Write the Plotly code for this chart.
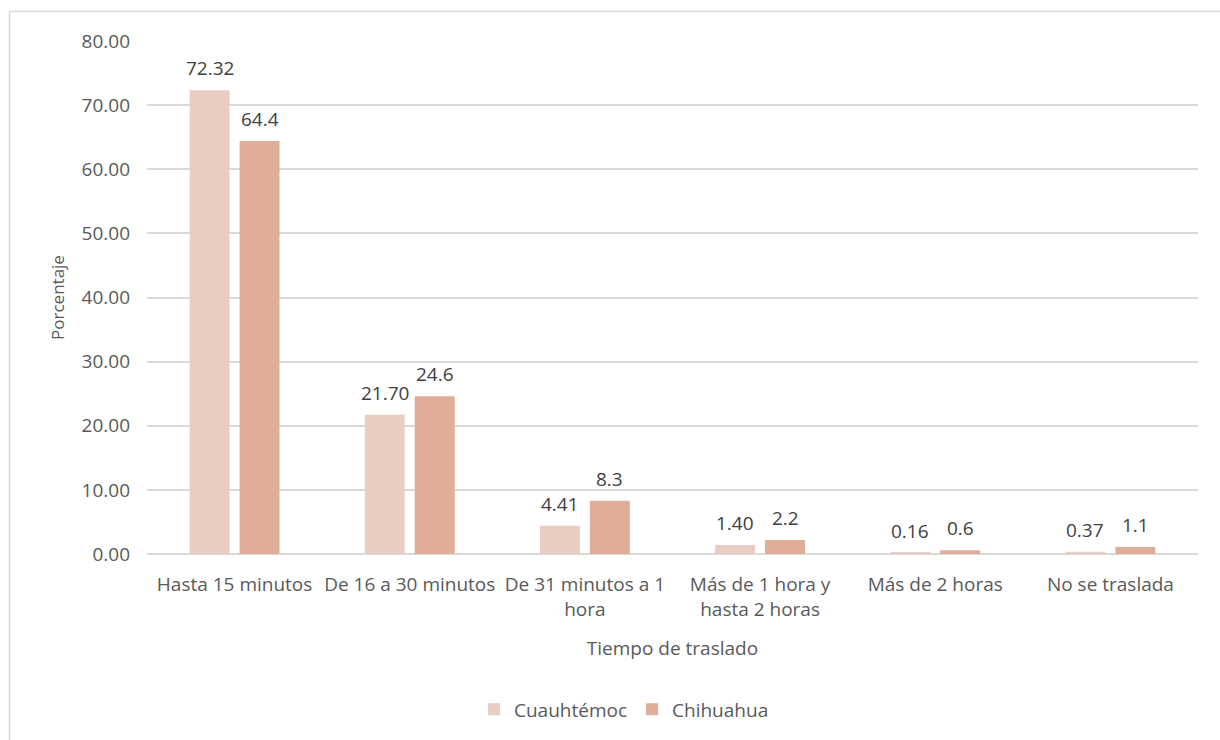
import plotly.graph_objects as go

categorias = [
    "Hasta 15 minutos",
    "De 16 a 30 minutos",
    "De 31 minutos a 1<br>hora",
    "Más de 1 hora y<br>hasta 2 horas",
    "Más de 2 horas",
    "No se traslada",
]
cuauhtemoc = [72.32, 21.70, 4.41, 1.40, 0.16, 0.37]
chihuahua = [64.4, 24.6, 8.3, 2.2, 0.6, 1.1]
y_ticks = [0, 10, 20, 30, 40, 50, 60, 70, 80]

FONT = "Open Sans"
GRIS = "#595959"
SIZE = 19

fig = go.Figure()
fig.add_trace(go.Bar(
    name="Cuauhtémoc", x=categorias, y=cuauhtemoc,
    marker=dict(color="#E9CCC2", line=dict(width=0)),
))
fig.add_trace(go.Bar(
    name="Chihuahua", x=categorias, y=chihuahua,
    marker=dict(color="#E0AE98", line=dict(width=0)),
))

# value labels above each bar (bars sit 25 px either side of the category centre)
for vals, fmt, shift in ((cuauhtemoc, "{:.2f}", -25), (chihuahua, "{}", 25)):
    for cat, v in zip(categorias, vals):
        fig.add_annotation(
            x=cat, y=v, xref="x", yref="y", text=fmt.format(v),
            showarrow=False, xshift=shift, yshift=7, yanchor="bottom",
            font=dict(family=FONT, size=SIZE, color="#404040"),
        )

L, R, T, B = 147, 22, 41, 184
W, H = 1220, 740
pw, ph = W - L - R, H - T - B


def px_x(p):
    return (p - L) / pw


def px_y(p):
    return (H - B - p) / ph


# outer frame around the chart area
fig.add_shape(
    type="rect", xref="paper", yref="paper",
    x0=px_x(9.5), x1=px_x(1260), y0=px_y(780), y1=px_y(11.5),
    line=dict(color="#D9D9D9", width=1.5), fillcolor="rgba(0,0,0,0)", layer="below",
)

fig.update_layout(
    width=W, height=H,
    margin=dict(l=L, r=R, t=T, b=B, pad=0),
    paper_bgcolor="white", plot_bgcolor="white",
    barmode="group", bargap=0.43, bargroupgap=0.2,
    font=dict(family=FONT, size=SIZE, color=GRIS),
    showlegend=True,
    legend=dict(
        orientation="h", x=px_x(624), xanchor="center", y=px_y(712), yanchor="middle",
        font=dict(family=FONT, size=SIZE, color=GRIS), itemwidth=30,
        traceorder="normal",
    ),
    xaxis=dict(
        showgrid=False, showline=False, ticks="", ticklabelstandoff=17,
        tickfont=dict(family=FONT, size=SIZE, color=GRIS),
        title=dict(text="Tiempo de traslado", standoff=20,
                   font=dict(family=FONT, size=SIZE, color=GRIS)),
    ),
    yaxis=dict(
        range=[0, 80], tickvals=y_ticks, tickformat=".2f",
        showgrid=True, gridcolor="#D9D9D9", gridwidth=1.5,
        zeroline=True, zerolinecolor="#D9D9D9", zerolinewidth=1.5,
        showline=False, ticks="", ticklabelstandoff=16,
        tickfont=dict(family=FONT, size=SIZE, color=GRIS),
        title=dict(text="Porcentaje", standoff=12,
                   font=dict(family=FONT, size=17, color=GRIS)),
    ),
)

fig.write_html("out.html")
